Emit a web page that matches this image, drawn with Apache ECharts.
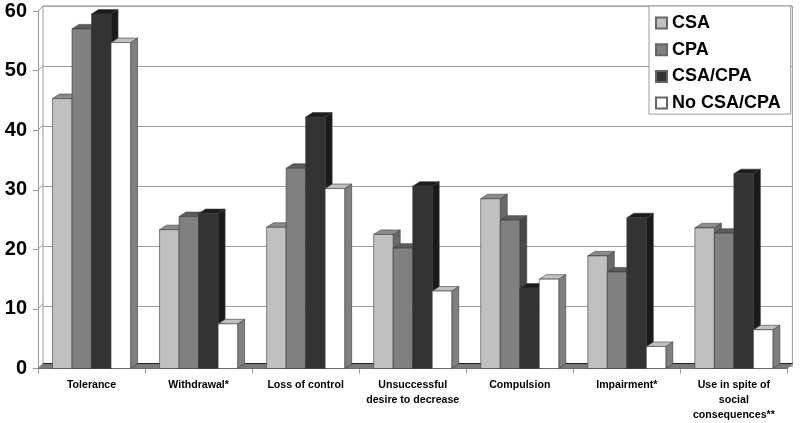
<!DOCTYPE html>
<html><head><meta charset="utf-8">
<script src="https://cdn.jsdelivr.net/npm/echarts@6/dist/echarts.min.js"></script>
<style>html,body{margin:0;padding:0;background:#fff}#c{width:800px;height:423px}</style>
</head><body><div id="c"></div>
<script>
const categories = ['Tolerance','Withdrawal*','Loss of control','Unsuccessful\ndesire to decrease','Compulsion','Impairment*','Use in spite of\nsocial\nconsequences**'];
const seriesNames = ['CSA','CPA','CSA/CPA','No CSA/CPA'];
const csa    = [45.3, 23.3, 23.7, 22.5, 28.5, 18.9, 23.6];
const cpa    = [57.0, 25.5, 33.6, 20.2, 24.9, 16.2, 22.7];
const csacpa = [59.5, 26.0, 42.2, 30.6, 13.5, 25.3, 32.7];
const none   = [54.7, 7.5, 30.2, 13.0, 15.0, 3.7, 6.5];
const yTicks = [0,10,20,30,40,50,60];

const values = [csa, cpa, csacpa, none];
const fronts = ['#c0c0c0','#808080','#333333','#ffffff'];
const tops   = ['#8c8c8c','#5c5c5c','#1c1c1c','#c0c0c0'];
const sides  = ['#6a6a6a','#474747','#1a1a1a','#808080'];
const FONT = '"Liberation Sans", Arial, sans-serif';
const BDX = 7, BDY = -4.5;   // bar depth
const WDX = 5, WDY = -5;     // wall/floor depth

function barRender(k){
  return function(params, api){
    const idx = api.value(0), v = api.value(1);
    const p = api.coord([idx, v]);
    const b = api.coord([idx, 0]);
    const band = api.size([1, 0])[0];
    const w = band * 0.729 / 4;
    const x = p[0] - 2*w + k*w;
    const yt = p[1], yb = b[1];
    const st = {stroke:'#3a3a3a', lineWidth:0.6};
    return {type:'group', children:[
      {type:'polygon', shape:{points:[[x+w,yt],[x+w+BDX,yt+BDY],[x+w+BDX,yb+BDY],[x+w,yb]]}, style:Object.assign({fill:sides[k]},st)},
      {type:'polygon', shape:{points:[[x,yt],[x+w,yt],[x+w+BDX,yt+BDY],[x+BDX,yt+BDY]]}, style:Object.assign({fill:tops[k]},st)},
      {type:'rect', shape:{x:x, y:yt, width:w, height:yb-yt}, style:Object.assign({fill:fronts[k]},st)}
    ]};
  };
}

const series = [];
// floor
series.push({
  type:'custom', name:'floor', xAxisIndex:0, yAxisIndex:0, silent:true, z:1,
  data:[[0,0]],
  renderItem:function(params, api){
    const cs = params.coordSys;
    const y = api.coord([0,0])[1];
    const x0 = cs.x, x1 = cs.x + cs.width;
    return {type:'group', children:[
      {type:'polygon', shape:{points:[[x0,y],[x1,y],[x1+WDX,y+WDY],[x0+WDX,y+WDY]]}, style:{fill:'#7a7a7a', stroke:'#555', lineWidth:0.6}},
      {type:'line', shape:{x1:x0+WDX, y1:y+WDY, x2:x1+WDX, y2:y+WDY}, style:{stroke:'#222', lineWidth:1}}
    ]};
  }
});
// left wall gridlines
series.push({
  type:'custom', name:'leftwall', xAxisIndex:0, yAxisIndex:0, silent:true, z:1,
  data:yTicks.map(v=>[0,v]),
  renderItem:function(params, api){
    const cs = params.coordSys;
    const y = api.coord([0, api.value(1)])[1];
    return {type:'line', shape:{x1:cs.x, y1:y, x2:cs.x+WDX, y2:y+WDY}, style:{stroke:'#999', lineWidth:1}};
  }
});
seriesNames.forEach((n,k)=>{
  series.push({
    type:'custom', name:n, xAxisIndex:0, yAxisIndex:0, z:3,
    itemStyle:{color:fronts[k], borderColor:'#666', borderWidth:1},
    encode:{x:0, y:1},
    data: values[k].map((v,i)=>[i,v]),
    renderItem: barRender(k)
  });
});

const chart = echarts.init(document.getElementById('c'));
chart.setOption({
  backgroundColor:'#fff',
  animation:false,
  legend:{
    data: seriesNames.map(n=>({name:n, icon:'rect'})),
    orient:'vertical', left:649, top:6,
    padding:[8,10,2,6],
    borderColor:'#999', borderWidth:1, backgroundColor:'#fff',
    itemWidth:11, itemHeight:11, itemGap:8.7,
    textStyle:{fontFamily:FONT, fontWeight:'bold', fontSize:18, color:'#000', lineHeight:18},
    selectedMode:false
  },
  grid:[
    {left:38, right:12.6, top:11, bottom:52, show:false},
    {left:43, right:7.6, top:6, bottom:57, show:true, borderColor:'#999', borderWidth:1, backgroundColor:'transparent'}
  ],
  xAxis:[
    {type:'category', gridIndex:0, data:categories,
     axisLine:{lineStyle:{color:'#999'}},
     axisTick:{show:true, length:5, lineStyle:{color:'#999'}},
     axisLabel:{interval:0, margin:9.5, fontFamily:FONT, fontWeight:'bold', fontSize:10.6, color:'#000', lineHeight:15}},
    {type:'value', gridIndex:1, min:0, max:1, show:false}
  ],
  yAxis:[
    {type:'value', gridIndex:0, min:0, max:60, interval:10,
     axisLine:{show:true, lineStyle:{color:'#999'}},
     axisTick:{show:true, length:5, lineStyle:{color:'#999'}},
     splitLine:{show:false},
     axisLabel:{margin:11, fontFamily:FONT, fontWeight:'bold', fontSize:20, color:'#000'}},
    {type:'value', gridIndex:1, min:0, max:60, interval:10,
     axisLine:{show:false}, axisTick:{show:false}, axisLabel:{show:false},
     splitLine:{show:true, lineStyle:{color:'#a0a0a0', width:1}}}
  ],
  series: series
});
</script></body></html>
